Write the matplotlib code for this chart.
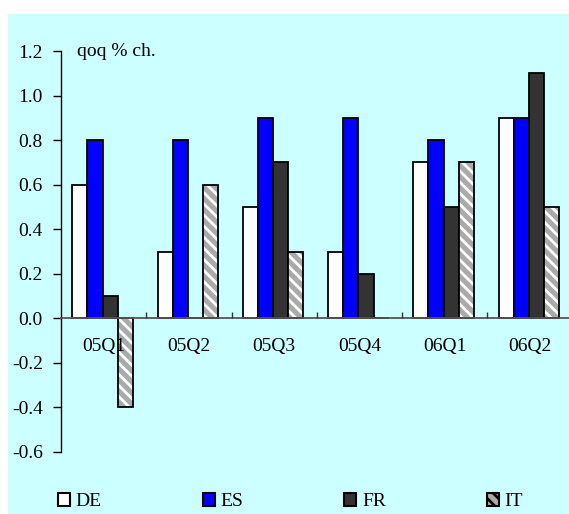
import matplotlib
matplotlib.use("Agg")
import matplotlib.pyplot as plt
from matplotlib.patches import Rectangle, Patch
import numpy as np

categories = ["05Q1", "05Q2", "05Q3", "05Q4", "06Q1", "06Q2"]
de = [0.6, 0.3, 0.5, 0.3, 0.7, 0.9]
es = [0.8, 0.8, 0.9, 0.9, 0.8, 0.9]
fr = [0.1, 0.0, 0.7, 0.2, 0.5, 1.1]
it = [-0.4, 0.6, 0.3, 0.0, 0.7, 0.5]
series_names = ["DE", "ES", "FR", "IT"]
yticks = [-0.6, -0.4, -0.2, 0.0, 0.2, 0.4, 0.6, 0.8, 1.0, 1.2]

plt.rcParams['font.family'] = ['Liberation Serif', 'DejaVu Serif']
plt.rcParams['axes.unicode_minus'] = False
plt.rcParams['hatch.linewidth'] = 2.0

W, H = 569, 514
fig = plt.figure(figsize=(W/100, H/100), dpi=100, facecolor='white')
bg = '#CCFFFF'
fig.patches.append(Rectangle((8/W, 0), 1 - 8/W, 1 - 14/H, transform=fig.transFigure,
                             facecolor=bg, edgecolor='none', zorder=-10))

left, right = 61/W, 1.0
bottom, top = (H - 452)/H, (H - 51)/H
ax = fig.add_axes([left, bottom, right - left, top - bottom])
ax.set_facecolor('none')
ax.set_zorder(1)

x = np.arange(len(categories))
bw = 0.178
offsets = np.array([-1.5, -0.5, 0.5, 1.5]) * bw - 0.012
lw = 1.3
hatch_fill = '#AAAAAA'
ax.bar(x + offsets[0], de, bw, color='white', edgecolor='black', linewidth=lw, zorder=2)
ax.bar(x + offsets[1], es, bw, color='#0000FF', edgecolor='black', linewidth=lw, zorder=2)
ax.bar(x + offsets[2], fr, bw, color='#333333', edgecolor='black', linewidth=lw, zorder=2)
ax.bar(x + offsets[3], it, bw, color=hatch_fill, edgecolor='white', linewidth=0, hatch='\\\\\\', zorder=2)
ax.bar(x + offsets[3], it, bw, color='none', edgecolor='black', linewidth=lw, zorder=2.1)

ax.set_ylim(-0.6, 1.2)
ax.set_xlim(-0.5, -0.5 + (W - 61) / 85.25)
ax.set_yticks(yticks)
ax.set_yticklabels([f"{v:.1f}" for v in yticks])
ax.tick_params(axis='y', direction='out', length=6, width=1, labelsize=14, pad=7, colors='black')

ax.spines['top'].set_visible(False)
ax.spines['right'].set_visible(False)
ax.spines['left'].set_linewidth(1)
ax.spines['bottom'].set_position(('data', 0))
ax.spines['bottom'].set_color('#555555')
ax.spines['bottom'].set_linewidth(1.3)
ax.spines['bottom'].set_zorder(5)

ax.set_xticks(x[:-1] + 0.5)
ax.set_xticklabels([])
ax.tick_params(axis='x', which='major', direction='in', length=4, width=1, colors='#333333')
ax.set_xticks(x, minor=True)
ax.set_xticklabels(categories, minor=True)
ax.tick_params(axis='x', which='minor', length=0, labelsize=14, pad=14, labelcolor='black')
ax.xaxis.set_zorder(5)

ax.text((77 - 61) / ((right - left) * W), 1.0, "qoq % ch.", transform=ax.transAxes,
        fontsize=14, va='center', ha='left')

handles = [Patch(facecolor='white', edgecolor='black', linewidth=1.5),
           Patch(facecolor='#0000FF', edgecolor='black', linewidth=1.5),
           Patch(facecolor='#333333', edgecolor='black', linewidth=1.5),
           Patch(facecolor=hatch_fill, edgecolor='black', linewidth=1.5, hatch='\\\\\\')]
fig.legend(handles, series_names, loc='center left', bbox_to_anchor=(50/W, (H - 501.5)/H),
           ncol=4, frameon=False, fontsize=14, handlelength=0.62, handleheight=0.62,
           handletextpad=0.29, columnspacing=5.2, borderaxespad=0)

fig.savefig("out.png", dpi=100, facecolor='white')
